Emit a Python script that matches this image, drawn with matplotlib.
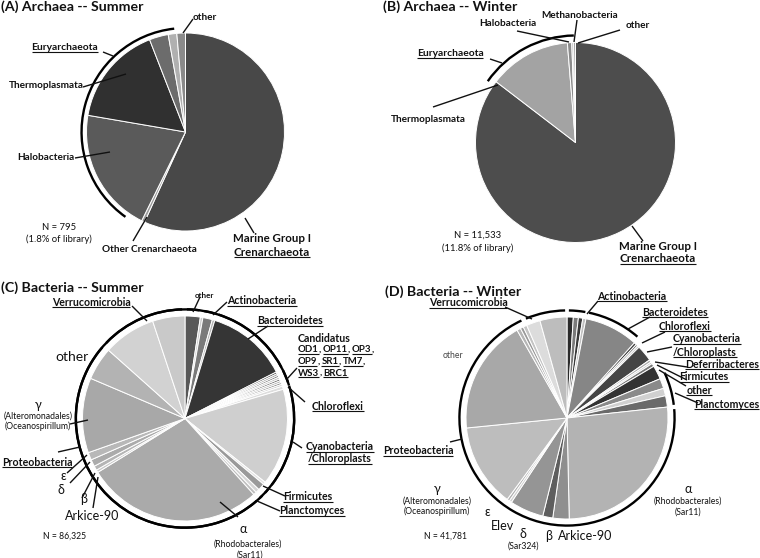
import numpy as np
import matplotlib
matplotlib.use('Agg')
import matplotlib.pyplot as plt
from matplotlib.patches import Arc

W, H = 760, 558
FAM = ['Lato', 'DejaVu Sans']
plt.rcParams['font.family'] = FAM
TC = '#111111'

# ---------------- data (percent of each library, clockwise from 12 o'clock) ----------------
a_names = ['Marine Group I', 'Other Crenarchaeota', 'Halobacteria', 'Thermoplasmata',
           'Eury-unclassified', 'Eury-minor', 'other']
a_values = [56.8, 0.5, 20.4, 16.4, 3.1, 1.4, 1.4]
a_colors = ['#484848', '#9a9a9a', '#5a5a5a', '#303030', '#6c6c6c', '#b0b0b0', '#8a8a8a']
a_groups = [None, None, 'Eury', 'Eury', 'Eury', 'Eury', None]

b_names = ['Marine Group I', 'Thermoplasmata', 'Halobacteria', 'Methanobacteria', 'other']
b_values = [85.4, 13.3, 0.7, 0.3, 0.3]
b_colors = ['#4d4d4d', '#a3a3a3', '#8c8c8c', '#c0c0c0', '#999999']
b_groups = [None, 'Eury', 'Eury', 'Eury', 'Eury']

c_names = ['other', 'Actino-1', 'Actino-2', 'Actino-3', 'Bacteroidetes',
           'OD1', 'OP11', 'OP3', 'OP9', 'SR1', 'TM7', 'WS3', 'BRC1',
           'Chloroflexi', 'Cyanobacteria', 'Firmicutes-1', 'Firmicutes-2',
           'Planctomyces-1', 'Planctomyces-2',
           'alpha', 'Arkice-90', 'beta', 'delta', 'epsilon', 'gamma', 'proteo-other',
           'Verrucomicrobia-1', 'Verrucomicrobia-2']
c_values = [2.4, 0.4, 1.5, 0.4, 12.8,
            0.3, 0.3, 0.3, 0.3, 0.3, 0.3, 0.3, 0.3,
            0.5, 15.3, 0.4, 1.1,
            0.6, 0.5,
            27.9, 0.4, 0.7, 1.1, 1.2, 11.8, 5.2,
            8.3, 5.1]
c_colors = ['#585858', '#cccccc', '#7a7a7a', '#b5b5b5', '#353535',
            '#555555', '#999999', '#777777', '#bbbbbb', '#666666', '#aaaaaa', '#888888', '#cccccc',
            '#dddddd', '#cfcfcf', '#e2e2e2', '#9a9a9a',
            '#d5d5d5', '#bfbfbf',
            '#aaaaaa', '#c8c8c8', '#b5b5b5', '#ababab', '#b8b8b8', '#a8a8a8', '#b3b3b3',
            '#d2d2d2', '#c9c9c9']
c_groups = ['other', 'Actino', 'Actino', 'Actino', 'Bacteroidetes'] + ['Candidatus'] * 8 + \
           ['Chloroflexi', 'Cyano', 'Firm', 'Firm', 'Planct', 'Planct'] + ['Proteo'] * 7 + ['Verruco'] * 2

d_names = ['Actino-1', 'Actino-2', 'Actino-3', 'Actino-4', 'Bacteroidetes',
           'Chloroflexi-1', 'Chloroflexi-2', 'Chloroflexi-3', 'Cyanobacteria',
           'Deferribacteres-1', 'Deferribacteres-2', 'Firmicutes', 'other',
           'Planctomyces-1', 'Planctomyces-2', 'Planctomyces-3',
           'alpha', 'Arkice-90', 'beta', 'delta', 'Elev', 'epsilon', 'gamma', 'proteo-other',
           'proteo-minor-1', 'proteo-minor-2', 'proteo-minor-3',
           'Verrucomicrobia-1', 'Verrucomicrobia-2']
d_values = [1.0, 0.8, 0.7, 0.5, 8.6,
            0.4, 0.3, 0.3, 2.6,
            0.4, 0.3, 0.5, 2.2,
            1.6, 1.2, 1.8,
            26.3, 2.6, 1.6, 5.4, 0.4, 0.4, 13.3, 18.3,
            0.6, 0.5, 0.6,
            2.2, 4.3]
d_colors = ['#2b2b2b', '#7a7a7a', '#3a3a3a', '#c0c0c0', '#868686',
            '#3c3c3c', '#666666', '#c8c8c8', '#454545',
            '#aaaaaa', '#c8c8c8', '#777777', '#333333',
            '#8a8a8a', '#d0d0d0', '#6a6a6a',
            '#b3b3b3', '#8f8f8f', '#5e5e5e', '#959595', '#d0d0d0', '#b0b0b0', '#bdbdbd', '#a8a8a8',
            '#b5b5b5', '#9a9a9a', '#c4c4c4',
            '#dcdcdc', '#bdbdbd']
d_groups = ['Actino'] * 4 + ['Bacteroidetes'] + ['Chloroflexi'] * 3 + ['Cyano'] + ['Deferri'] * 2 + \
           ['Firm', 'other'] + ['Planct'] * 3 + ['Proteo'] * 11 + ['Verruco'] * 2

# ---------------- figure ----------------
fig = plt.figure(figsize=(7.6, 5.58), dpi=100)
ax = fig.add_axes([0, 0, 1, 1])
renderer = fig.canvas.get_renderer()


def Y(y):
    return H - y


def draw_pie(values, colors, groups, cx, cy, r, ring, arc_groups, trims=None, lw_edge=0.7):
    ax.pie(values, colors=colors, startangle=90, counterclock=False,
           center=(cx, Y(cy)), radius=r,
           wedgeprops=dict(edgecolor='white', linewidth=lw_edge))
    vals = np.asarray(values, float)
    cum = np.concatenate([[0], np.cumsum(vals) / vals.sum() * 360.0])
    trims = trims or {}
    i = 0
    n = len(values)
    while i < n:
        g = groups[i]
        j = i
        while j + 1 < n and groups[j + 1] == g:
            j += 1
        if g is not None and g in arc_groups:
            s0, s1 = cum[i], cum[j + 1]
            t0, t1 = trims.get(g, (1.0, 1.0))
            s0 += t0
            s1 -= t1
            arc = Arc((cx, Y(cy)), 2 * r * ring, 2 * r * ring, theta1=90 - s1, theta2=90 - s0,
                      color='black', lw=1.7)
            ax.add_patch(arc)
        i = j + 1


draw_pie(a_values, a_colors, a_groups, 185.5, 132, 99, 1.05, ['Eury'], {'Eury': (9.0, 1.2)})
draw_pie(b_values, b_colors, b_groups, 575.5, 142.5, 100, 1.07, ['Eury'], {'Eury': (-2.5, 0.9)})
draw_pie(c_values, c_colors, c_groups, 185, 418.5, 102.5, 1.065,
         ['other', 'Actino', 'Bacteroidetes', 'Candidatus', 'Chloroflexi', 'Cyano', 'Firm',
          'Planct', 'Proteo', 'Verruco'],
         {'Actino': (1.5, 1.0), 'Verruco': (2.0, 1.5)})
draw_pie(d_values, d_colors, d_groups, 567, 418, 101, 1.065,
         ['Actino', 'Bacteroidetes', 'Planct', 'Proteo', 'Verruco'],
         {'Planct': (-2.0, 0.8), 'Proteo': (1.5, 1.6), 'Verruco': (1.0, 1.0)})

ax.set_xlim(0, W)
ax.set_ylim(0, H)
ax.set_aspect('auto')
ax.set_axis_off()


def underline(t, lw=0.8):
    bb = t.get_window_extent(renderer)
    inv = ax.transData.inverted()
    (x0, y0), (x1, y1) = inv.transform([[bb.x0, bb.y0], [bb.x1, bb.y1]])
    ax.plot([x0, x1], [y0 + 0.6, y0 + 0.6], color=TC, lw=lw, solid_capstyle='butt')


def lab(x, y, s, size=7.2, bold=True, ul=False, ha='center', color=TC):
    t = ax.text(x, Y(y), s, ha=ha, va='center', fontsize=size,
                fontweight='bold' if bold else 'normal', color=color, family=FAM)
    if ul:
        underline(t)
    return t


def seg_line(x, y, parts, size=6.9):
    sp = 1.8
    for s, ul in parts:
        t = ax.text(x, Y(y), s, ha='left', va='center', fontsize=size, fontweight='bold',
                    color=TC, family=FAM)
        bb = t.get_window_extent(renderer)
        if ul:
            underline(t)
        x += bb.width
        if s == ',':
            x += sp


def line(x0, y0, x1, y1, lw=1.0):
    ax.plot([x0, x1], [Y(y0), Y(y1)], color=TC, lw=lw, solid_capstyle='butt')


BL = 7.6    # bold label size for bacteria panels
GR = 9.0    # greek letters
SM = 6.2    # small notes
TS = 10.2   # panel titles

# ---------------- Panel A ----------------
lab(1, 7, '(A) Archaea -- Summer', size=TS, ha='left')
lab(65, 48, 'Euryarchaeota', size=7.4, ul=True)
lab(46, 86, 'Thermoplasmata')
lab(46, 158, 'Halobacteria')
lab(205, 17, 'other')
lab(59, 228, 'N = 795', size=6.8, bold=False)
lab(59, 239, '(1.8% of library)', size=6.8, bold=False)
lab(149, 250, 'Other Crenarchaeota')
lab(272, 239, 'Marine Group I', size=8.3)
lab(272, 252, 'Crenarchaeota', size=8.3, ul=True)
line(103, 52, 113, 56)
line(83, 87, 126, 74)
line(75, 158, 110, 152)
line(193, 19, 183, 33)
line(133, 241, 147, 217)
line(245, 218, 254, 233)

# ---------------- Panel B ----------------
lab(383, 7, '(B) Archaea -- Winter', size=TS, ha='left')
lab(450, 54, 'Euryarchaeota', size=7.4, ul=True)
lab(428, 119, 'Thermoplasmata')
lab(508, 23, 'Halobacteria')
lab(580, 16, 'Methanobacteria')
lab(638, 26, 'other')
lab(478, 235, 'N = 11,533', size=6.8, bold=False)
lab(478, 248, '(11.8% of library)', size=6.8, bold=False)
lab(658, 247, 'Marine Group I', size=8.3)
lab(658, 259, 'Crenarchaeota', size=8.3, ul=True)
line(490, 59, 502, 63)
line(433, 107, 498, 85)
line(517, 31, 569, 42)
line(577, 20, 574, 42)
line(620, 30, 578, 43)
line(632, 226, 643, 241)

# ---------------- Panel C ----------------
lab(1, 288, '(C) Bacteria -- Summer', size=TS, ha='left')
lab(91, 302, 'Verrucomicrobia', size=BL, ul=True)
lab(204, 295, 'other', size=5.8)
lab(262, 301, 'Actinobacteria', size=BL, ul=True)
lab(290, 321, 'Bacteroidetes', size=BL, ul=True)
lab(298, 338, 'Candidatus', size=BL, ha='left')
seg_line(298, 350, [('OD1', True), (',', False), ('OP11', True), (',', False), ('OP3', True), (',', False)])
seg_line(298, 362, [('OP9', True), (',', False), ('SR1', True), (',', False), ('TM7', True), (',', False)])
seg_line(298, 373, [('WS3', True), (',', False), ('BRC1', True)])
lab(338, 406, 'Chloroflexi', size=BL, ul=True)
lab(340, 447, 'Cyanobacteria', size=BL, ul=True)
lab(340, 459, '/Chloroplasts', size=BL, ul=True)
lab(308, 497, 'Firmicutes', size=BL, ul=True)
lab(312, 511, 'Planctomyces', size=BL, ul=True)
lab(243, 529, 'α', size=GR, bold=False)
lab(248, 544, '(Rhodobacterales)', size=SM, bold=False)
lab(250, 555, '(Sar11)', size=SM, bold=False)
lab(65, 536, 'N = 86,325', size=SM, bold=False)
lab(92, 516, 'Arkice-90', size=9, bold=False)
lab(84, 499, 'β', size=GR, bold=False)
lab(61, 490, 'δ', size=GR, bold=False)
lab(63, 476, 'ε', size=GR, bold=False)
lab(37, 462, 'Proteobacteria', size=BL, ul=True)
lab(38, 405, 'γ', size=GR, bold=False)
lab(38, 416, '(Alteromonadales)', size=SM, bold=False)
lab(38, 426, '(Oceanospirillum)', size=SM, bold=False)
lab(72, 357, 'other', size=10, bold=False)
line(132, 306, 147, 321)
line(200, 297, 193, 312)
line(227, 302, 213, 315)
line(268, 326, 248, 339)
line(297, 368, 287, 379)
line(305, 402, 288, 387)
line(302, 448, 293, 442)
line(285, 496, 263, 486)
line(280, 511, 257, 501)
line(238, 517, 220, 502)
line(70, 424, 88, 420)
line(58, 452, 80, 447)
line(67, 473, 87, 455)
line(70, 483, 90, 462)
line(82, 498, 95, 473)
line(93, 508, 98, 477)

# ---------------- Panel D ----------------
lab(385, 292, '(D) Bacteria -- Winter', size=TS, ha='left')
lab(468, 303, 'Verrucomicrobia', size=BL, ul=True)
lab(632, 296, 'Actinobacteria', size=BL, ul=True)
lab(675, 312, 'Bacteroidetes', size=BL, ul=True)
lab(685, 326, 'Chloroflexi', size=BL, ul=True)
lab(707, 339, 'Cyanobacteria', size=BL, ul=True)
lab(705, 352, '/Chloroplasts', size=BL, ul=True)
lab(722, 364, 'Deferribacteres', size=BL, ul=True)
lab(704, 377, 'Firmicutes', size=BL, ul=True)
lab(699, 390, 'other', size=BL, ul=True)
lab(759, 404, 'Planctomyces', size=BL, ul=True, ha='right')
lab(453, 356, 'other', size=SM, bold=False, color='#444444')
lab(418, 451, 'Proteobacteria', size=BL, ul=True)
lab(437, 489, 'γ', size=GR, bold=False)
lab(437, 501, '(Alteromonadales)', size=SM, bold=False)
lab(437, 511, '(Oceanospirillum)', size=SM, bold=False)
lab(487, 512, 'ε', size=GR, bold=False)
lab(503, 526, 'Elev', size=9, bold=False)
lab(523, 534, 'δ', size=GR, bold=False)
lab(523, 546, '(Sar324)', size=SM, bold=False)
lab(549, 536, 'β', size=GR, bold=False)
lab(585, 536, 'Arkice-90', size=9, bold=False)
lab(688, 489, 'α', size=GR, bold=False)
lab(688, 501, '(Rhodobacterales)', size=SM, bold=False)
lab(688, 512, '(Sar11)', size=SM, bold=False)
lab(445, 536, 'N = 41,781', size=SM, bold=False)
line(505, 307, 532, 319)
line(598, 301, 587, 314)
line(650, 317, 628, 329)
line(665, 332, 642, 343)
line(672, 347, 647, 352)
line(687, 367, 655, 362)
line(687, 380, 657, 365)
line(686, 386, 659, 370)
line(698, 403, 675, 393)
line(450, 442, 462, 439)

fig.savefig('out.png', dpi=100, facecolor='white')
